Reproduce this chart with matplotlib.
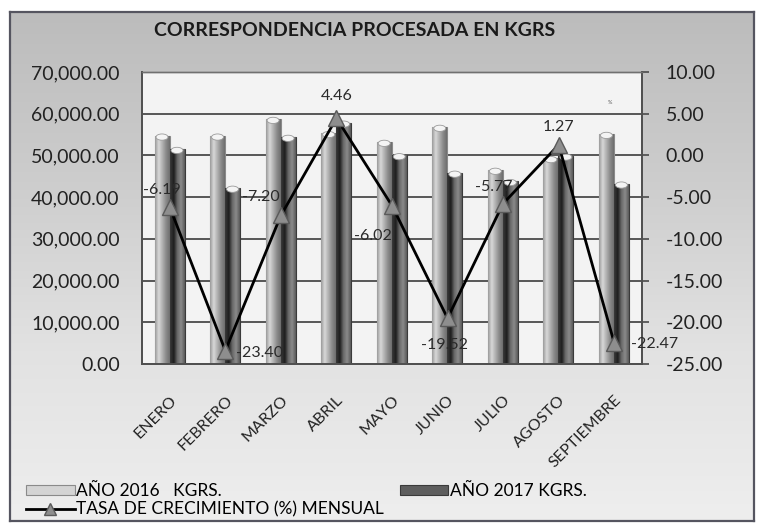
import matplotlib
matplotlib.use('Agg')
import matplotlib.pyplot as plt
from matplotlib.colors import LinearSegmentedColormap
from matplotlib.patches import Ellipse
import numpy as np

# data
meses = ['ENERO', 'FEBRERO', 'MARZO', 'ABRIL', 'MAYO', 'JUNIO', 'JULIO', 'AGOSTO', 'SEPTIEMBRE']
kg_2016 = [54700, 54700, 58700, 55300, 53200, 56800, 46500, 49300, 55100]
kg_2017 = [51500, 42200, 54400, 57800, 50000, 45800, 43800, 49900, 43200]
tasa = [-6.19, -23.40, -7.20, 4.46, -6.02, -19.52, -5.77, 1.27, -22.47]
left_ticks = [0, 10000, 20000, 30000, 40000, 50000, 60000, 70000]
right_ticks = [-25, -20, -15, -10, -5, 0, 5, 10]

# label offsets (points) and alignment for each growth value
lbl_off = [(-6, 12), (8, -2), (-1, 13), (0, 16), (0, -22), (-2, -19), (-7, 12), (0, 13), (12, -1)]
lbl_ha = ['center', 'left', 'right', 'center', 'right', 'center', 'center', 'center', 'left']

plt.rcParams['font.family'] = ['Lato', 'DejaVu Sans']

fig = plt.figure(figsize=(7.64, 5.27), dpi=100)
fig.patch.set_facecolor('white')

# gray framed background with vertical gradient
bg = fig.add_axes([10/764, 1-521/527, 744/764, 509/527], zorder=0)
bg_cmap = LinearSegmentedColormap.from_list('bg', ['#bcbcbc', '#cdcdcd', '#e2e2e2', '#eeeeee'])
bg.imshow(np.linspace(0, 1, 200).reshape(-1, 1), aspect='auto', cmap=bg_cmap,
          extent=(0, 1, 0, 1), origin='upper')
bg.set_xticks([])
bg.set_yticks([])
for s in bg.spines.values():
    s.set_color('#555560')
    s.set_linewidth(1.6)

ax = fig.add_axes([142/764, (527-364)/527, 500/764, 292/527], zorder=1)
ax.set_facecolor('#f3f3f3')
ax2 = ax.twinx()

x = np.arange(len(meses))
w = 0.27
b16 = ax.bar(x - 0.14, kg_2016, w, color='#d4d4d4', edgecolor='#8a8a8a', lw=0.8,
             label='AÑO 2016   KGRS.', zorder=2)
b17 = ax.bar(x + 0.13, kg_2017, w, color='#5e5e5e', edgecolor='#3a3a3a', lw=0.8,
             label='AÑO 2017 KGRS.', zorder=2)

# cylinder shading
cm16 = LinearSegmentedColormap.from_list('c16', ['#9c9c9c', '#d8d8d8', '#b0b0b0', '#8a8a8a', '#6e6e6e'])
cm17 = LinearSegmentedColormap.from_list('c17', ['#3a3a3a', '#1e1e1e', '#6a6a6a', '#8a8a8a', '#5a5a5a'])
grad = np.linspace(0, 1, 50).reshape(1, -1)
for bars, cm in ((b16, cm16), (b17, cm17)):
    for p in bars:
        x0 = p.get_x()
        x1 = x0 + p.get_width()
        h = p.get_height()
        im = ax.imshow(grad, extent=(x0, x1, 0, h), aspect='auto', cmap=cm, zorder=2.1)
        im.set_clip_path(p)
        ax.add_patch(Ellipse((x0 + p.get_width()/2, h - 300), p.get_width()*0.8, 1500,
                             facecolor='#f4f4f4', edgecolor='#9a9a9a', lw=0.6, zorder=2.2))

ax.set_xlim(-0.5, len(meses) - 0.5)
ax.set_ylim(0, 70000)
ax.set_yticks(left_ticks)
ax.set_yticklabels(['{:,.2f}'.format(v) for v in left_ticks])
ax.grid(axis='y', color='#4a4a4a', lw=1.3)
ax.set_axisbelow(True)
ax.tick_params(axis='y', length=0, pad=16, labelsize=14, labelcolor='#222222')
ax.set_xticks(x)
ax.set_xticklabels(meses, rotation=45, ha='right', rotation_mode='anchor')
ax.tick_params(axis='x', length=0, pad=21, labelsize=11.5, labelcolor='#222222')

ln, = ax2.plot(x, tasa, color='black', lw=2, marker='^', markersize=11,
               markerfacecolor='#8e8e8e', markeredgecolor='#5a5a5a', markeredgewidth=1,
               label='TASA DE CRECIMIENTO (%) MENSUAL', zorder=5)
for i, v in enumerate(tasa):
    ax2.annotate('{:.2f}'.format(v), (x[i], v), xytext=lbl_off[i], textcoords='offset points',
                 ha=lbl_ha[i], va='center', fontsize=11.5, color='#2a2a2a', zorder=6)
ax2.set_ylim(-25, 10)
ax2.set_yticks(right_ticks)
ax2.set_yticklabels(['{:.2f}'.format(v) for v in right_ticks])
ax2.tick_params(axis='y', length=5, width=1.2, color='#4a4a4a', pad=12, labelsize=14, labelcolor='#222222')

for a in (ax, ax2):
    for s in a.spines.values():
        s.set_color('#505050')
        s.set_linewidth(1.3)
    a.spines['top'].set_color('#707070')
    a.spines['top'].set_linewidth(1.0)

fig.text(355/764, 1-30/527, 'CORRESPONDENCIA PROCESADA EN KGRS', ha='center', va='center',
         fontsize=14, fontweight='bold', color='#1a1a1a')
fig.text(610/764, 1-102/527, '%', ha='center', va='center', fontsize=4, color='#555555')

leg = fig.legend([b16, ln, b17], [b16.get_label(), ln.get_label(), b17.get_label()],
                 ncol=2, loc='upper left', bbox_to_anchor=(26/764, 1-483/527), frameon=False,
                 fontsize=12.5, handlelength=2.8, handleheight=0.5, handletextpad=0.1,
                 columnspacing=0.9, labelspacing=0.12, borderpad=0, borderaxespad=0,
                 markerscale=0.8)

fig.savefig('out.png', dpi=100)
